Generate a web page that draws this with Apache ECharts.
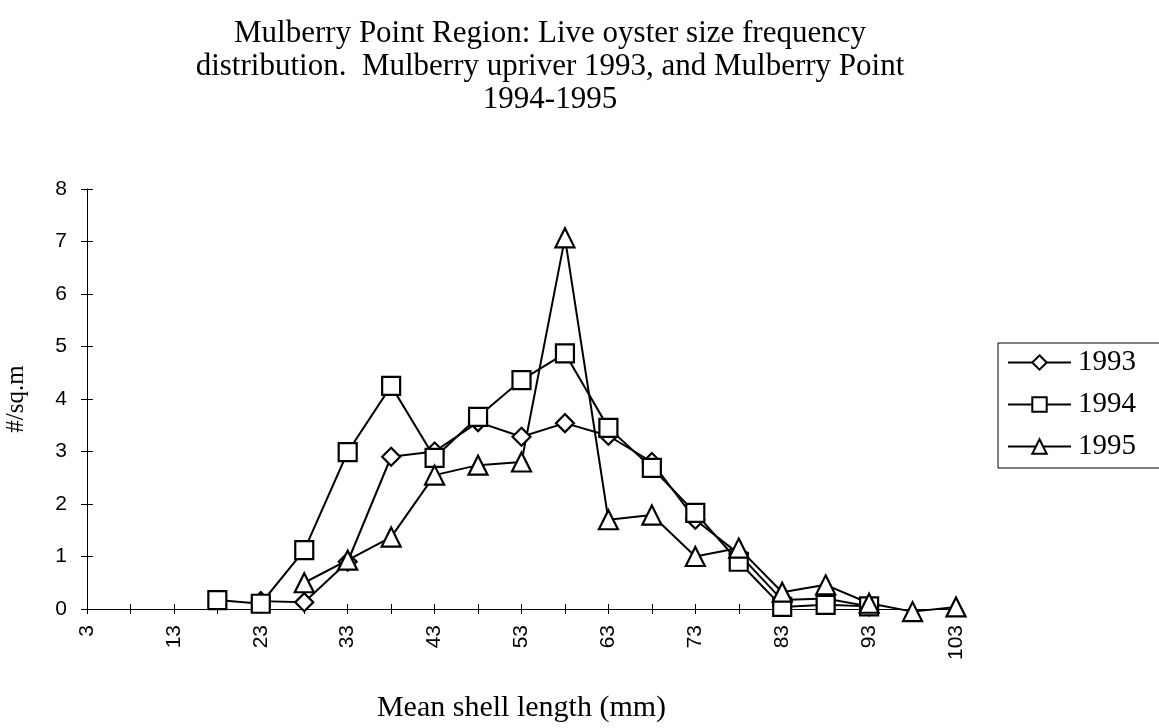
<!DOCTYPE html>
<html lang="en">
  <head>
    <meta charset="UTF-8" />
    <title>Mulberry Point Region</title>
    <script src="https://cdn.jsdelivr.net/npm/echarts@6/dist/echarts.min.js"></script>
    <style>
      body { margin: 0; background: #fff; }
      #chart { width: 1159px; height: 728px; }
    </style>
  </head>
  <body>
    <div id="chart"></div>
    <script type="text/javascript">
      // shell length classes (mm)
      const lengths = ["3", "8", "13", "18", "23", "28", "33", "38", "43", "48", "53",
        "58", "63", "68", "73", "78", "83", "88", "93", "98", "103"];

      // #/sq.m, null where the year has no point
      const y1993 = [null, null, null, null, 0.15, 0.13, 0.9, 2.9, 3.0, 3.56, 3.28,
        3.54, 3.3, 2.8, 1.7, 1.05, 0.17, 0.2, 0.05, null, null];
      const y1994 = [null, null, null, 0.17, 0.1, 1.12, 2.99, 4.25, 2.88, 3.66, 4.36,
        4.87, 3.45, 2.69, 1.83, 0.9, 0.04, 0.08, 0.05, null, null];
      const y1995 = [null, null, null, null, null, 0.5, 0.93, 1.37, 2.55, 2.74, 2.8,
        7.07, 1.7, 1.79, 1.0, 1.16, 0.32, 0.46, 0.11, -0.05, 0.04];

      const serif = "'Liberation Serif', 'DejaVu Serif', serif";
      const sans = "'Liberation Sans', Arial, sans-serif";

      const chart = echarts.init(document.getElementById("chart"));

      function lineSeries(name, data, symbol, size) {
        return {
          name: name,
          type: "line",
          data: data,
          symbol: symbol,
          symbolSize: size,
          clip: false,
          connectNulls: false,
          lineStyle: { color: "#000", width: 2 },
          itemStyle: { color: "#fff", borderColor: "#000", borderWidth: 2.2 },
          emphasis: { disabled: true },
        };
      }

      const options = {
        animation: false,
        backgroundColor: "#fff",
        title: {
          text: "Mulberry Point Region: Live oyster size frequency\ndistribution.  Mulberry upriver 1993, and Mulberry Point\n1994-1995",
          left: 545,
          top: 12,
          textAlign: "center",
          textStyle: {
            fontFamily: serif,
            fontSize: 31,
            fontWeight: "normal",
            lineHeight: 33,
            color: "#000",
          },
        },
        legend: {
          orient: "vertical",
          left: 998,
          top: 343,
          padding: [5, 30, 7, 9],
          itemGap: 13,
          itemWidth: 63,
          itemHeight: 18,
          borderColor: "#000",
          borderWidth: 1,
          data: ["1993", "1994", "1995"],
          textStyle: { fontFamily: serif, fontSize: 29, color: "#000", padding: [0, 0, 0, 2] },
        },
        grid: {
          left: 87,
          right: 203,
          top: 189,
          bottom: 119,
          containLabel: false,
          outerBoundsMode: "none",
        },
        xAxis: [
          {
            type: "category",
            data: lengths,
            boundaryGap: false,
            name: "Mean shell length (mm)",
            nameLocation: "middle",
            nameGap: 84,
            nameTextStyle: { fontFamily: serif, fontSize: 30, color: "#000" },
            axisLine: { lineStyle: { color: "#000", width: 1 } },
            axisTick: { interval: 0, length: 5, lineStyle: { color: "#000" } },
            axisLabel: {
              interval: 1,
              rotate: 90,
              margin: 16,
              fontFamily: sans,
              fontSize: 21,
              color: "#000",
            },
            splitLine: { show: false },
          },
          {
            // upper half of the crossing ticks
            type: "category",
            data: lengths,
            boundaryGap: false,
            position: "bottom",
            axisLine: { show: false },
            axisTick: { interval: 0, inside: true, length: 5, lineStyle: { color: "#000" } },
            axisLabel: { show: false },
          },
        ],
        yAxis: [
          {
            type: "value",
            min: 0,
            max: 8,
            interval: 1,
            name: "#/sq.m",
            nameLocation: "middle",
            nameGap: 58,
            nameTextStyle: { fontFamily: serif, fontSize: 25, color: "#000" },
            axisLine: { show: true, lineStyle: { color: "#000", width: 1 } },
            axisTick: { show: true, length: 6, lineStyle: { color: "#000" } },
            axisLabel: { fontFamily: sans, fontSize: 21, color: "#000", margin: 20 },
            splitLine: { show: false },
          },
          {
            // inner half of the crossing ticks
            type: "value",
            position: "left",
            min: 0,
            max: 8,
            interval: 1,
            axisLine: { show: false },
            axisTick: { show: true, inside: true, length: 6, lineStyle: { color: "#000" } },
            axisLabel: { show: false },
            splitLine: { show: false },
          },
        ],
        series: [
          lineSeries("1993", y1993, "diamond", 18),
          lineSeries("1994", y1994, "rect", 18),
          lineSeries("1995", y1995, "triangle", 19),
        ],
      };

      chart.setOption(options);
    </script>
  </body>
</html>
